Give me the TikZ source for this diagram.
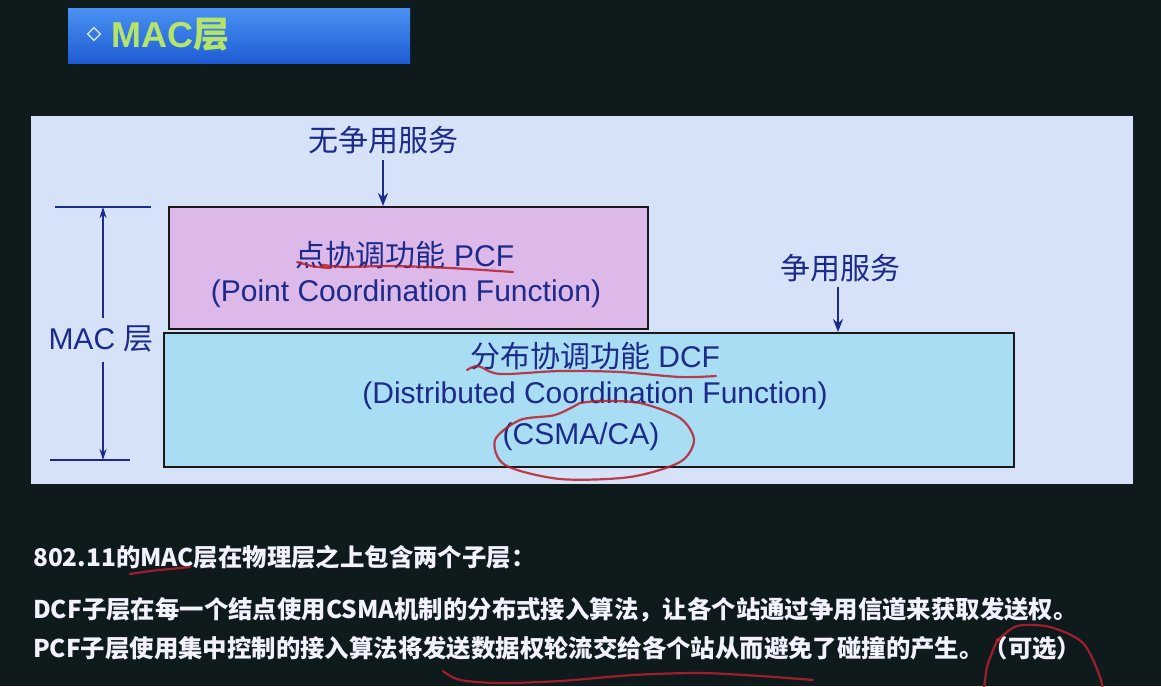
\documentclass[tikz,border=0pt]{standalone}
\usepackage{fontspec}
\setmainfont{Liberation Sans}
\newfontfamily\cjk{Noto Sans CJK SC}
\usetikzlibrary{arrows.meta,shapes.geometric}

\definecolor{bgdark}{HTML}{0F1A1C}
\definecolor{panelblue}{HTML}{D5E2F8}
\definecolor{pcffill}{HTML}{DDB9EA}
\definecolor{dcffill}{HTML}{A9DDF3}
\definecolor{inkblue}{HTML}{1C2A8A}
\definecolor{penred}{HTML}{B8202E}
\definecolor{titlegreen}{HTML}{B4E46A}
\definecolor{bartop}{HTML}{4A92F2}
\definecolor{barbottom}{HTML}{1E5CD4}

\tikzset{
  layerbox/.style={draw=black!90, line width=2.2pt, inner sep=0pt},
  boxtext/.style={text=inkblue, font=\fontsize{30}{36}\selectfont, inner sep=0pt},
  notetext/.style={text=white!95!blue, font=\fontsize{24.4}{29}\selectfont\cjk\bfseries, inner sep=0pt, anchor=west},
  svcarrow/.style={draw=inkblue, line width=2.2pt, -{Stealth[length=13pt,width=10pt]}},
  dimline/.style={draw=inkblue, line width=1.6pt},
  pen/.style={draw=penred, line width=2.2pt, line cap=round, line join=round, opacity=0.85},
}

\begin{document}
\begin{tikzpicture}[x=1pt,y=-1pt]
  % page
  \fill[bgdark] (0,0) rectangle (1161,686);
  \useasboundingbox (0,0) rectangle (1161,686);

  % title bar
  \shade[top color=bartop, bottom color=barbottom] (68,8) rectangle (410,63);
  \node[draw=white!75!bartop, line width=1.3pt, minimum size=9pt, inner sep=0pt, rotate=45] (bullet) at (94,34) {};
  \node[anchor=west, text=titlegreen, font=\fontsize{36}{40}\selectfont\bfseries, inner sep=0pt] (title)
    at (111,35) {MAC{\cjk 层}};

  % light panel
  \fill[panelblue] (31,116) rectangle (1133,484);

  % the two sublayers
  \node[layerbox, fill=pcffill, anchor=north west, minimum width=479pt, minimum height=122pt] (pcf) at (168,206) {};
  \node[layerbox, fill=dcffill, anchor=north west, minimum width=850pt, minimum height=134pt] (dcf) at (163,332) {};

  \node[boxtext] (pcfa) at (405,255) {{\cjk 点协调功能} PCF};
  \node[boxtext] (pcfb) at (406,294) {(Point Coordination Function)};
  \node[boxtext] (dcfa) at (595,356) {{\cjk 分布协调功能} DCF};
  \node[boxtext] (dcfb) at (595,396) {(Distributed Coordination Function)};
  \node[boxtext] (dcfc) at (581,437) {(CSMA/CA)};

  % services entering from above
  \node[boxtext, font=\fontsize{30}{36}\selectfont\cjk] (nocont) at (383,140) {无争用服务};
  \node[boxtext, font=\fontsize{30}{36}\selectfont\cjk] (cont) at (840,268) {争用服务};
  \draw[svcarrow] (nocont.south) ++(0,6) coordinate (nocontstart) -- (nocontstart |- pcf.north);
  \draw[svcarrow] (838,287) coordinate (contstart) -- (contstart |- dcf.north);

  % extent of the MAC layer
  \coordinate (ticktopL) at (55,207);
  \coordinate (ticktopR) at (151,207);
  \coordinate (tickbotL) at (50,460);
  \coordinate (tickbotR) at (130,460);
  \coordinate (mactop) at (103,207);
  \coordinate (macbot) at (103,460);
  \draw[dimline] (ticktopL) -- (ticktopR);
  \draw[dimline] (tickbotL) -- (tickbotR);
  \node[boxtext] (maclabel) at (101,339) {MAC {\cjk 层}};
  \draw[dimline, -{Stealth[length=11pt,width=7pt]}] (103,318) coordinate (macup) -- (mactop);
  \draw[dimline, -{Stealth[length=11pt,width=7pt]}] (103,362) coordinate (macdown) -- (macbot);

  % explanatory notes
  \node[notetext] (note1) at (33,557) {802.11的MAC层在物理层之上包含两个子层：};
  \node[notetext] (note2) at (33,610) {DCF子层在每一个结点使用CSMA机制的分布式接入算法，让各个站通过争用信道来获取发送权。};
  \node[notetext] (note3) at (33,648) {PCF子层使用集中控制的接入算法将发送数据权轮流交给各个站从而避免了碰撞的产生。（可选）};

  % red pen marks
  \draw[pen] plot[smooth] coordinates {(297,262) (312,266) (330,268) (322,265) (345,267) (390,266) (450,268) (513,272)};
  \draw[pen] plot[smooth] coordinates {(467,370) (478,366) (500,374) (560,371) (620,372) (680,377) (716,376)};
  \draw[pen] plot[smooth] coordinates {(580,403) (555,415) (520,420) (495,440) (505,465) (560,479) (630,477) (680,462) (694,440) (680,418) (640,403) (600,401) (580,403)};
  \draw[pen] plot[smooth] coordinates {(130,574) (150,571) (170,569) (190,567)};
  \draw[pen] plot[smooth] coordinates {(443,671) (460,680) (500,683) (560,681) (633,675) (700,673) (760,676) (813,680)};
  \begin{scope}
    \clip (900,600) rectangle (1161,686);
    \draw[pen] plot[smooth] coordinates {(997,641) (1017,626) (1050,627) (1083,643) (1100,677) (1104,700)};
    \draw[pen] plot[smooth] coordinates {(997,641) (987,667) (983,700)};
    \fill[penred] (998,640) circle (2pt);
  \end{scope}
\end{tikzpicture}
\end{document}
